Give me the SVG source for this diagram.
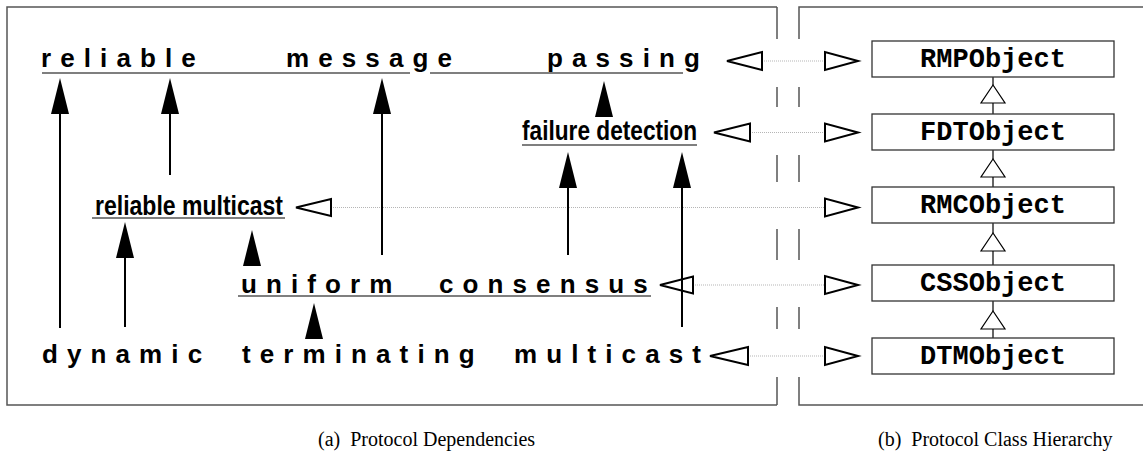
<svg xmlns="http://www.w3.org/2000/svg" xmlns:xlink="http://www.w3.org/1999/xlink" width="1143" height="453" viewBox="0 0 1143 453">
  <style>
    .frame { fill: none; stroke: #555; stroke-width: 1.5; }
    .spaced { font-family: "Liberation Sans", Arial, Helvetica, sans-serif; font-weight: bold; font-size: 26px; letter-spacing: 9.1px; fill: #000; }
    .narrow { font-family: "Liberation Sans", Arial, Helvetica, sans-serif; font-weight: bold; font-size: 28px; fill: #000; }
    .ul { stroke: #555; stroke-width: 1.5; }
    .cls { font-family: "Liberation Mono", "Courier New", monospace; font-weight: bold; font-size: 27px; text-anchor: middle; fill: #000; }
    .box { fill: #fff; stroke: #333; stroke-width: 1.3; }
    .dep { stroke: #000; stroke-width: 2; fill: none; }
    .head { fill: #000; stroke: none; }
    .open { fill: none; stroke: #000; stroke-width: 2; stroke-linejoin: miter; }
    .inh { fill: #fff; stroke: #000; stroke-width: 1.2; }
    .inhline { stroke: #000; stroke-width: 1.2; }
    .dot { stroke: #b5b5b5; stroke-width: 1; stroke-dasharray: 1 1; }
    .cap { font-family: "Liberation Serif", "Times New Roman", serif; font-size: 20px; fill: #000; }
  </style>
  <defs>
    <!-- filled dependency arrowhead, apex at origin, pointing up -->
    <path id="fhead" d="M0,0 L-9,36 L9,36 Z"/>
    <!-- hollow inheritance arrowhead, apex at origin, pointing up -->
    <path id="ihead" d="M0,0 L-12,18 L12,18 Z"/>
  </defs>

  <!-- panel frames -->
  <g id="frames">
    <path class="frame" d="M777,7 H7 V405 H777"/>
    <path class="frame" d="M777,7 V39 M777,87 V107 M777,155 V182 M777,229 V260 M777,307 V329 M777,377 V405"/>
    <path class="frame" d="M1143,7 H799 V39 M799,87 V107 M799,155 V182 M799,229 V260 M799,307 V329 M799,377 V405 H1143"/>
  </g>

  <!-- dotted links between protocols and their classes -->
  <g id="links">
    <line class="dot" x1="762" y1="61" x2="825" y2="61"/>
    <line class="dot" x1="750" y1="132.5" x2="825" y2="132.5"/>
    <line class="dot" x1="331" y1="207.5" x2="825" y2="207.5"/>
    <line class="dot" x1="693" y1="285" x2="825" y2="285"/>
    <line class="dot" x1="748" y1="356" x2="825" y2="356"/>
  </g>

  <!-- protocol nodes -->
  <g id="rmp">
    <text class="spaced" y="67"><tspan x="41">reliable</tspan><tspan x="286">message</tspan><tspan x="547">passing</tspan></text>
    <path class="ul" d="M42,73 H410 M430,73 H683"/>
    <path class="open" d="M727,61 L762,52 L762,70 Z"/>
  </g>
  <g id="fdt">
    <text class="narrow" x="522" y="140" textLength="175" lengthAdjust="spacingAndGlyphs">failure detection</text>
    <path class="ul" d="M522,145 H697"/>
    <path class="open" d="M714,132.5 L750,123.5 L750,141.5 Z"/>
  </g>
  <g id="rmc">
    <text class="narrow" x="95" y="215" textLength="188" lengthAdjust="spacingAndGlyphs">reliable multicast</text>
    <path class="ul" d="M92,218 H285"/>
    <path class="open" d="M296,207.5 L331,199 L331,216 Z"/>
  </g>
  <g id="css">
    <text class="spaced" y="293"><tspan x="241">uniform</tspan><tspan x="439">consensus</tspan></text>
    <path class="ul" d="M238,296 H651"/>
    <path class="open" d="M660,285 L693,276.5 L693,293.5 Z"/>
  </g>
  <g id="dtm">
    <text class="spaced" y="363"><tspan x="42">dynamic</tspan><tspan x="242">terminating</tspan><tspan x="514">multicast</tspan></text>
    <path class="open" d="M710,356 L748,347 L748,365 Z"/>
  </g>

  <!-- dependency connectors -->
  <g id="connectors">
    <line class="dep" x1="60" y1="328" x2="60" y2="112"/>
    <use xlink:href="#fhead" class="head" x="60" y="78"/>
    <line class="dep" x1="170" y1="175" x2="170" y2="112"/>
    <use xlink:href="#fhead" class="head" x="170" y="78"/>
    <line class="dep" x1="382" y1="255" x2="382" y2="112"/>
    <use xlink:href="#fhead" class="head" x="382" y="78"/>
    <line class="dep" x1="125" y1="327" x2="125" y2="255"/>
    <use xlink:href="#fhead" class="head" x="125" y="222"/>
    <use xlink:href="#fhead" class="head" x="252" y="230"/>
    <use xlink:href="#fhead" class="head" x="604" y="81"/>
    <line class="dep" x1="568" y1="255" x2="568" y2="184"/>
    <use xlink:href="#fhead" class="head" x="568" y="152"/>
    <line class="dep" x1="682" y1="327" x2="682" y2="184"/>
    <use xlink:href="#fhead" class="head" x="682" y="152"/>
    <use xlink:href="#fhead" class="head" x="314" y="303"/>
  </g>

  <!-- class hierarchy -->
  <g id="hier-links">
    <path class="open" d="M858,61 L825,52 L825,70 Z"/>
    <path class="open" d="M858,132.5 L825,123.5 L825,141.5 Z"/>
    <path class="open" d="M858,207.5 L825,198.5 L825,216.5 Z"/>
    <path class="open" d="M858,285 L825,276 L825,294 Z"/>
    <path class="open" d="M858,356 L825,347 L825,365 Z"/>
    <path class="inhline" d="M993,77 V85 M993,103 V114 M993,150 V159 M993,177 V187 M993,223 V233 M993,251 V265 M993,301 V311 M993,329 V338"/>
    <use xlink:href="#ihead" class="inh" x="993" y="85"/>
    <use xlink:href="#ihead" class="inh" x="993" y="159"/>
    <use xlink:href="#ihead" class="inh" x="993" y="233"/>
    <use xlink:href="#ihead" class="inh" x="993" y="311"/>
  </g>
  <g id="RMPObject">
    <rect class="box" x="872" y="41" width="242" height="36"/>
    <text class="cls" x="993" y="67">RMPObject</text>
  </g>
  <g id="FDTObject">
    <rect class="box" x="872" y="114" width="242" height="36"/>
    <text class="cls" x="993" y="140">FDTObject</text>
  </g>
  <g id="RMCObject">
    <rect class="box" x="872" y="187" width="242" height="36"/>
    <text class="cls" x="993" y="213">RMCObject</text>
  </g>
  <g id="CSSObject">
    <rect class="box" x="872" y="265" width="242" height="36"/>
    <text class="cls" x="993" y="291">CSSObject</text>
  </g>
  <g id="DTMObject">
    <rect class="box" x="872" y="338" width="242" height="36"/>
    <text class="cls" x="993" y="364">DTMObject</text>
  </g>

  <!-- captions -->
  <g id="captions">
    <text class="cap" x="318" y="446" xml:space="preserve">(a)  Protocol Dependencies</text>
    <text class="cap" x="878" y="446" xml:space="preserve">(b)  Protocol Class Hierarchy</text>
  </g>
</svg>
